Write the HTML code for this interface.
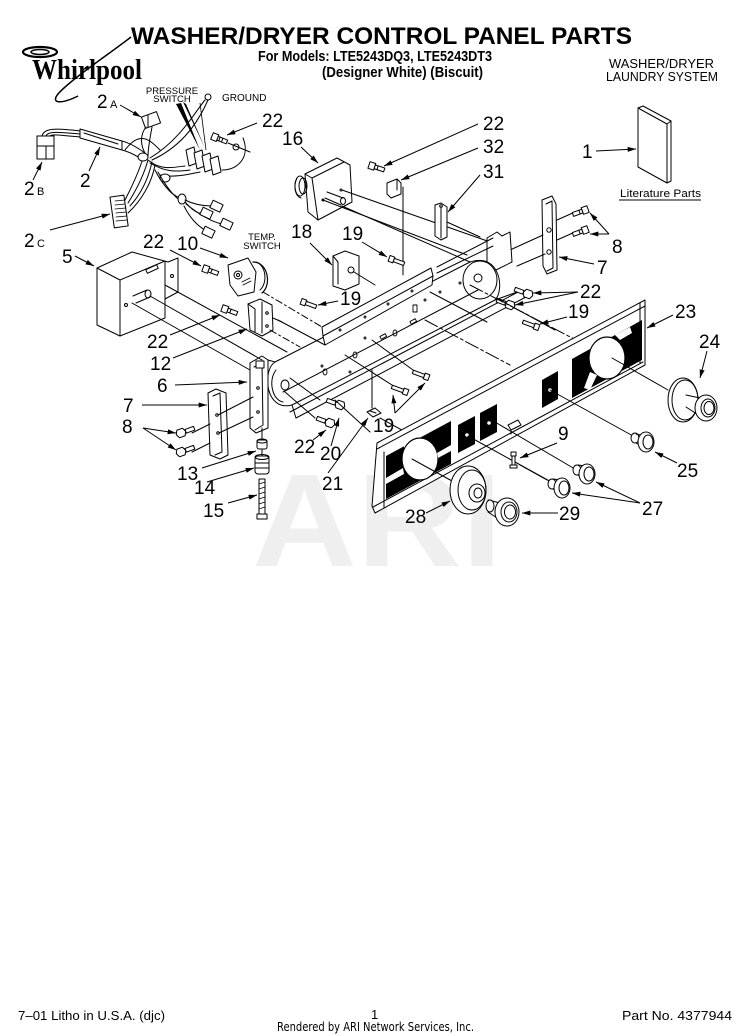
<!DOCTYPE html>
<html><head><meta charset="utf-8">
<style>
html,body{margin:0;padding:0;background:#fff;}
body{width:750px;height:1036px;overflow:hidden;}
svg{display:block;}
text{font-family:"Liberation Sans",Arial,sans-serif;fill:#000;}
.n{font-size:19px;}
.s{font-size:11px;}
.t{font-size:9.5px;}
</style></head>
<body>
<svg width="750" height="1036" viewBox="0 0 750 1036" xmlns="http://www.w3.org/2000/svg">
<defs>
<marker id="a" viewBox="0 0 10 6" refX="10" refY="3" markerWidth="9" markerHeight="5" orient="auto" markerUnits="userSpaceOnUse"><path d="M0,0 L10,3 L0,6 z" fill="#000"/></marker>
</defs>

<!-- watermark -->
<text x="252" y="566" font-size="132" font-weight="bold" textLength="250" lengthAdjust="spacingAndGlyphs" style="fill:#efefef">ARI</text>

<!-- HEADER -->
<text x="131" y="44" font-size="24" font-weight="bold" textLength="501" lengthAdjust="spacingAndGlyphs">WASHER/DRYER CONTROL PANEL PARTS</text>
<text x="258" y="61" font-size="15" font-weight="bold" textLength="234" lengthAdjust="spacingAndGlyphs">For Models: LTE5243DQ3, LTE5243DT3</text>
<text x="322" y="77" font-size="15" font-weight="bold" textLength="161" lengthAdjust="spacingAndGlyphs">(Designer White)   (Biscuit)</text>
<text x="609" y="68" font-size="12.5" textLength="105" lengthAdjust="spacingAndGlyphs">WASHER/DRYER</text>
<text x="606" y="81" font-size="12.5" textLength="112" lengthAdjust="spacingAndGlyphs">LAUNDRY SYSTEM</text>

<!-- Whirlpool logo -->
<g fill="none" stroke="#000">
<path d="M131,37 C112,52 70,80 58,94 C50,104 62,104 78,96" stroke-width="1.5"/>
<ellipse cx="40" cy="52" rx="17" ry="5" stroke-width="2.2"/>
<ellipse cx="40" cy="52" rx="9" ry="2.5" stroke-width="1.5"/>
</g>
<text x="32" y="79" font-size="29" font-weight="bold" style="font-family:'Liberation Serif',serif" textLength="110" lengthAdjust="spacingAndGlyphs">Whirlpool</text>

<!-- FOOTER -->
<text x="18" y="1020" font-size="13" textLength="147" lengthAdjust="spacingAndGlyphs">7–01 Litho in U.S.A. (djc)</text>
<text x="371" y="1019" font-size="13">1</text>
<text x="277" y="1031" font-size="12" style="font-family:'DejaVu Sans',sans-serif" textLength="197" lengthAdjust="spacingAndGlyphs">Rendered by ARI Network Services, Inc.</text>
<text x="622" y="1020" font-size="13" textLength="110" lengthAdjust="spacingAndGlyphs">Part No. 4377944</text>

<!-- ===================== DRAWING ===================== -->
<g fill="none" stroke="#000" stroke-width="1" stroke-linejoin="round" stroke-linecap="round">

<!-- Literature part 1 -->
<polygon points="638,108 667,124 667,183 638,167" fill="#fff"/>
<polyline points="638,108 643,106 671,121 671,181 667,183"/>
<line x1="667" y1="124" x2="671" y2="121"/>

<!-- Harness 2 -->
<rect x="37" y="136" width="17" height="23" fill="#fff"/>
<line x1="37" y1="146" x2="54" y2="146"/><line x1="46" y1="146" x2="46" y2="159"/>
<path d="M42,136 C44,128 55,128 80,131"/>
<path d="M46,136 C48,131 58,132 80,134"/>
<path d="M50,136 C52,134 60,135 80,137"/>
<path d="M80,129 L122,141 L122,150 L80,138 Z" fill="#fff"/>
<line x1="84" y1="133" x2="118" y2="144"/>
<path d="M122,141 C130,143 138,148 145,153"/>
<path d="M122,150 C130,152 137,156 143,160"/>
<rect x="143" y="114" width="16" height="12" fill="#fff" transform="rotate(-20 151 120)"/>
<line x1="148" y1="115" x2="148" y2="127"/>
<path d="M146,127 C140,135 140,145 146,155"/>
<path d="M152,127 C150,138 148,148 148,156"/>
<path d="M125,150 C140,130 150,140 160,150" />
<!-- ground wire -->
<circle cx="208" cy="97" r="3"/>
<path d="M205,100 C195,112 180,140 150,158"/>
<path d="M208,100 C200,118 185,145 152,160"/>
<!-- junction to pressure switch -->
<path d="M148,160 C160,170 170,168 185,166"/>
<path d="M150,163 C165,172 175,172 190,170"/>
<path d="M160,175 C175,178 190,174 200,172"/>
<g fill="#fff">
<polygon points="186,150 194,147 197,163 189,166"/>
<polygon points="194,153 202,150 205,166 197,169"/>
<polygon points="202,156 210,153 213,169 205,172"/>
<polygon points="210,159 218,156 221,172 213,175"/>
</g>
<path d="M222,170 C240,170 250,155 243,138" />
<!-- main bundle down to 2C -->
<path d="M143,158 C138,175 130,190 125,200"/>
<path d="M148,160 C143,178 135,192 128,203"/>
<path d="M152,162 C148,180 140,195 130,206"/>
<path d="M155,165 C152,182 142,200 128,213"/>
<ellipse cx="143" cy="157" rx="5" ry="4" fill="#fff"/>
<ellipse cx="165" cy="178" rx="5" ry="4" fill="#fff"/>
<rect x="112" y="196" width="14" height="31" fill="#fff" transform="rotate(-8 119 211)"/>
<g stroke-width="0.8">
<line x1="115" y1="201" x2="125" y2="200"/><line x1="115" y1="205" x2="125" y2="204"/>
<line x1="115" y1="209" x2="126" y2="208"/><line x1="116" y1="213" x2="126" y2="212"/>
<line x1="116" y1="217" x2="127" y2="216"/><line x1="116" y1="221" x2="127" y2="220"/>
</g>
<path d="M155,170 C160,180 170,195 180,198"/>
<path d="M158,172 C165,185 175,198 182,202"/>
<ellipse cx="182" cy="199" rx="4" ry="5" fill="#fff"/>
<path d="M185,200 C195,205 205,206 212,206"/>
<path d="M185,202 C192,210 198,214 204,214"/>
<path d="M186,204 C200,215 212,222 222,224"/>
<path d="M184,206 C190,218 198,226 205,230"/>
<g fill="#fff">
<rect x="211" y="202" width="11" height="8" transform="rotate(25 216 206)"/>
<rect x="201" y="209" width="11" height="8" transform="rotate(25 206 213)"/>
<rect x="221" y="220" width="11" height="8" transform="rotate(25 226 224)"/>
<rect x="203" y="228" width="11" height="8" transform="rotate(25 208 232)"/>
</g>

<!-- bolt 22 top-left -->
<g transform="translate(212,136) rotate(22)"><rect x="0" y="-3.5" width="6" height="7" fill="#fff"/><rect x="6" y="-2" width="10" height="4" fill="#fff"/><line x1="8" y1="-2" x2="8" y2="2"/><line x1="11" y1="-2" x2="11" y2="2"/></g>
<circle cx="236" cy="147" r="3"/>
<line x1="228" y1="143" x2="250" y2="152"/>

<!-- Timer 16 -->
<polygon points="305,174 337,158 350,165 352,202 318,220 308,212" fill="#fff"/>
<polyline points="305,174 312,178 344,162"/>
<line x1="312" y1="178" x2="318" y2="220"/>
<ellipse cx="300" cy="186" rx="5" ry="10" fill="#fff"/>
<ellipse cx="303" cy="186" rx="4" ry="8"/>
<path d="M297,178 C293,186 295,196 301,198"/>
<path d="M327,192 L343,198 M325,198 L341,205"/>
<ellipse cx="343" cy="201" rx="2.5" ry="3.5"/>
<circle cx="341" cy="190" r="1"/><circle cx="323" cy="200" r="1"/>
<!-- lines from timer -->
<line x1="342" y1="190" x2="493" y2="243"/>
<line x1="323" y1="200" x2="467" y2="255"/>
<line x1="342" y1="206" x2="470" y2="262"/>

<!-- bolt 22 near 32 -->
<g transform="translate(369,165) rotate(18)"><rect x="0" y="-3.5" width="6" height="7" fill="#fff"/><rect x="6" y="-2" width="10" height="4" fill="#fff"/><line x1="9" y1="-2" x2="9" y2="2"/></g>
<!-- clip 32 -->
<polygon points="387,183 397,179 401,183 401,194 391,198 387,194" fill="#fff"/>
<line x1="397" y1="179" x2="397" y2="190"/>
<line x1="403" y1="187" x2="403" y2="275"/>
<!-- bracket 31 -->
<polygon points="435,205 441,203 447,207 447,237 441,240 435,236" fill="#fff"/>
<line x1="441" y1="207" x2="441" y2="238"/>
<circle cx="441" cy="206" r="1.3"/>
<line x1="447" y1="222" x2="480" y2="237"/>

<!-- right bracket 7 -->
<polygon points="542,200 552,196 556,204 557,270 547,274 543,266" fill="#fff"/>
<polyline points="546,204 552,201 553,268 547,271"/>
<circle cx="549" cy="230" r="2.2"/><circle cx="549" cy="252" r="2.2"/>
<line x1="557" y1="220" x2="575" y2="212"/>
<line x1="557" y1="240" x2="575" y2="232"/>
<line x1="510" y1="250" x2="543" y2="235"/>
<line x1="517" y1="266" x2="545" y2="254"/>
<!-- screws 8 right -->
<g transform="translate(588,209) rotate(160)"><rect x="0" y="-3.5" width="6" height="7" fill="#fff"/><rect x="6" y="-2" width="10" height="4" fill="#fff"/><line x1="9" y1="-2" x2="9" y2="2"/></g>
<g transform="translate(588,229) rotate(160)"><rect x="0" y="-3.5" width="6" height="7" fill="#fff"/><rect x="6" y="-2" width="10" height="4" fill="#fff"/><line x1="9" y1="-2" x2="9" y2="2"/></g>

<!-- CHASSIS -->
<!-- right end bracket -->
<polygon points="487,238 497,232 502,236 510,232 512,262 496,270 487,266" fill="#fff"/>
<!-- main plate -->
<path d="M275,362 L470,262 C500,252 505,290 495,300 L292,405 C265,412 262,370 275,362 Z" fill="#fff"/>
<ellipse cx="480" cy="280" rx="17" ry="19"/>
<ellipse cx="478" cy="278" rx="4" ry="4"/>
<ellipse cx="285" cy="385" rx="4" ry="5"/>
<path d="M276,370 C268,380 272,400 283,402"/>
<line x1="290" y1="412" x2="520" y2="291"/>
<line x1="296" y1="418" x2="526" y2="297"/>
<line x1="292" y1="405" x2="296" y2="418"/>
<line x1="495" y1="300" x2="520" y2="291"/>
<!-- top flange strip -->
<polygon points="322,327 431,268 433,276 432,285 325,345 323,336" fill="#fff"/>
<line x1="323" y1="336" x2="433" y2="276"/>
<line x1="437" y1="267" x2="493" y2="238"/>
<line x1="437" y1="273" x2="493" y2="246"/>
<!-- holes -->
<g stroke-width="0.9">
<circle cx="340" cy="330" r="1"/><circle cx="365" cy="317" r="1"/><circle cx="388" cy="304" r="1"/><circle cx="412" cy="291" r="1"/>
<ellipse cx="355" cy="355" rx="2" ry="3"/><ellipse cx="395" cy="333" rx="2" ry="3"/><ellipse cx="325" cy="372" rx="2" ry="3"/>
<rect x="380" y="335" width="6" height="3" transform="rotate(-28 383 336)"/>
<rect x="410" y="320" width="6" height="3" transform="rotate(-28 413 321)"/>
<rect x="413" y="305" width="4" height="7"/>
<circle cx="322" cy="366" r="1"/><circle cx="350" cy="372" r="1"/><circle cx="365" cy="338" r="1"/>
<circle cx="425" cy="300" r="1"/><circle cx="440" cy="292" r="1"/><circle cx="460" cy="283" r="1"/>
</g>
<!-- inner rails -->
<line x1="283" y1="392" x2="478" y2="290"/>

<!-- bracket 6 (left end) -->
<polygon points="250,363 262,356 268,360 268,428 256,433 250,428" fill="#fff"/>
<polyline points="254,367 262,363 263,425 255,430"/>
<rect x="256" y="361" width="8" height="7" fill="#fff"/>
<circle cx="258" cy="388" r="1.3"/><circle cx="258" cy="412" r="1.3"/>
<line x1="268" y1="360" x2="275" y2="362"/>

<!-- bracket 18 -->
<polygon points="333,256 345,251 359,256 359,284 345,290 333,286" fill="#fff"/>
<polyline points="333,256 338,262 338,284"/>
<circle cx="351" cy="270" r="3"/>
<line x1="354" y1="272" x2="375" y2="285"/>
<!-- bolt 19 near 18 -->
<g transform="translate(391,259) rotate(20)"><rect x="-2" y="-3" width="5" height="6" fill="#fff"/><rect x="3" y="-1.8" width="11" height="3.6" fill="#fff"/></g>
<!-- bolt 19 left -->
<g transform="translate(303,302) rotate(20)"><rect x="-2" y="-3" width="5" height="6" fill="#fff"/><rect x="3" y="-1.8" width="11" height="3.6" fill="#fff"/></g>

<!-- Box 5 -->
<polygon points="97,268 132,252 168,262 178,258 178,292 165,299 165,318 120,336 97,325" fill="#fff"/>
<polyline points="97,268 120,280 120,336"/>
<line x1="120" y1="280" x2="165" y2="261"/>
<line x1="165" y1="262" x2="165" y2="299"/>
<rect x="146" y="267" width="12" height="4" transform="rotate(-25 152 269)"/>
<circle cx="172" cy="276" r="1.5"/><circle cx="126" cy="305" r="1.5"/>
<path d="M133,296 L147,290 M136,303 L150,297"/>
<ellipse cx="148" cy="294" rx="3" ry="4"/>
<line x1="150" y1="296" x2="262" y2="360"/>
<line x1="132" y1="303" x2="250" y2="370"/>
<line x1="165" y1="285" x2="287" y2="352"/>

<!-- Temp switch 10 -->
<path d="M253,262 C268,262 272,285 262,293" stroke-width="1.2"/>
<path d="M256,262 C266,265 268,283 260,290"/>
<polygon points="228,265 248,258 256,272 254,292 238,296 230,285" fill="#fff"/>
<circle cx="238" cy="275" r="4"/><circle cx="238" cy="275" r="1.5"/>
<g stroke-width="0.8"><line x1="242" y1="282" x2="250" y2="278"/><line x1="243" y1="285" x2="251" y2="281"/></g>
<line x1="263" y1="292" x2="322" y2="327" stroke-dasharray="7 3 2 3"/>
<!-- bolt 22 near 10 -->
<g transform="translate(203,268) rotate(20)"><rect x="0" y="-3.5" width="6" height="7" fill="#fff"/><rect x="6" y="-2" width="10" height="4" fill="#fff"/><line x1="9" y1="-2" x2="9" y2="2"/></g>
<!-- bolt 22 near 12 -->
<g transform="translate(222,308) rotate(20)"><rect x="0" y="-3.5" width="6" height="7" fill="#fff"/><rect x="6" y="-2" width="10" height="4" fill="#fff"/><line x1="9" y1="-2" x2="9" y2="2"/></g>

<!-- switch 12 -->
<polygon points="248,304 260,299 272,305 273,330 262,336 250,330" fill="#fff"/>
<polyline points="248,304 255,309 255,332"/>
<line x1="262" y1="302" x2="262" y2="333"/>
<line x1="273" y1="318" x2="282" y2="322"/>
<circle cx="267" cy="313" r="1.3"/><circle cx="267" cy="326" r="1.3"/>
<line x1="278" y1="320" x2="325" y2="345"/>
<line x1="270" y1="330" x2="300" y2="347" stroke-dasharray="7 3 2 3"/>

<!-- left bracket 7 -->
<polygon points="208,393 216,389 226,393 228,455 220,459 210,455" fill="#fff"/>
<polyline points="213,396 220,393 222,452 215,455"/>
<circle cx="217" cy="415" r="1.3"/><circle cx="218" cy="433" r="1.3"/>
<line x1="218" y1="415" x2="253" y2="397"/>
<line x1="219" y1="433" x2="253" y2="417"/>
<line x1="192" y1="433" x2="210" y2="424"/>
<line x1="192" y1="452" x2="210" y2="443"/>
<!-- screws 8 left -->
<g transform="translate(181,433) rotate(-20)"><polygon points="-3,-4 3,-4 5,0 3,4 -3,4 -5,0" fill="#fff"/><rect x="5" y="-2" width="9" height="4" fill="#fff"/></g>
<g transform="translate(181,452) rotate(-20)"><polygon points="-3,-4 3,-4 5,0 3,4 -3,4 -5,0" fill="#fff"/><rect x="5" y="-2" width="9" height="4" fill="#fff"/></g>

<!-- 13, 14, 15 -->
<line x1="262" y1="428" x2="262" y2="440"/>
<rect x="257" y="440" width="10" height="9" rx="2" fill="#fff"/>
<ellipse cx="262" cy="441" rx="5" ry="2"/>
<line x1="262" y1="450" x2="262" y2="456"/>
<rect x="255" y="456" width="14" height="18" rx="3" fill="#fff"/>
<ellipse cx="262" cy="457" rx="7" ry="2.5"/>
<line x1="255" y1="463" x2="269" y2="463"/><line x1="255" y1="468" x2="269" y2="468"/>
<rect x="259" y="479" width="6" height="36" fill="#fff"/>
<g stroke-width="0.7"><line x1="259" y1="484" x2="265" y2="482"/><line x1="259" y1="489" x2="265" y2="487"/><line x1="259" y1="494" x2="265" y2="492"/><line x1="259" y1="499" x2="265" y2="497"/><line x1="259" y1="504" x2="265" y2="502"/><line x1="259" y1="509" x2="265" y2="507"/></g>
<rect x="257" y="514" width="10" height="5" fill="#fff"/>

<!-- bolts 22/20 -->
<g transform="translate(340,405) rotate(200)"><polygon points="-3,-4 3,-4 5,0 3,4 -3,4 -5,0" fill="#fff"/><rect x="5" y="-2" width="9" height="4" fill="#fff"/></g>
<g transform="translate(330,423) rotate(200)"><polygon points="-3,-4 3,-4 5,0 3,4 -3,4 -5,0" fill="#fff"/><rect x="5" y="-2" width="9" height="4" fill="#fff"/></g>
<line x1="290" y1="378" x2="320" y2="400"/>
<line x1="285" y1="392" x2="315" y2="418"/>
<!-- clip 21 -->
<polygon points="367,412 375,408 381,413 373,417" fill="#fff"/>
<line x1="370" y1="411" x2="376" y2="413"/>
<line x1="372" y1="408" x2="372" y2="370"/>
<!-- bolts 19 lower -->
<g transform="translate(427,377) rotate(200)"><rect x="-2" y="-3" width="5" height="6" fill="#fff"/><rect x="3" y="-1.8" width="12" height="3.6" fill="#fff"/></g>
<g transform="translate(406,392) rotate(200)"><rect x="-2" y="-3" width="5" height="6" fill="#fff"/><rect x="3" y="-1.8" width="12" height="3.6" fill="#fff"/></g>
<line x1="345" y1="355" x2="392" y2="385"/>
<line x1="372" y1="340" x2="413" y2="370"/>
<line x1="335" y1="400" x2="370" y2="432" />
<line x1="380" y1="418" x2="420" y2="440"/>

<!-- bolts 22 right / 19 right -->
<g transform="translate(528,294) rotate(200)"><polygon points="-3,-4 3,-4 5,0 3,4 -3,4 -5,0" fill="#fff"/><rect x="5" y="-2" width="9" height="4" fill="#fff"/></g>
<g transform="translate(510,305) rotate(200)"><polygon points="-3,-4 3,-4 5,0 3,4 -3,4 -5,0" fill="#fff"/><rect x="5" y="-2" width="9" height="4" fill="#fff"/></g>
<g transform="translate(537,327) rotate(200)"><rect x="-2" y="-3" width="5" height="6" fill="#fff"/><rect x="3" y="-1.8" width="12" height="3.6" fill="#fff"/></g>
<line x1="470" y1="285" x2="605" y2="355" stroke-dasharray="14 3 3 3"/>
<line x1="425" y1="320" x2="510" y2="365" stroke-dasharray="14 3 3 3"/>
<line x1="430" y1="292" x2="487" y2="322"/>
<line x1="500" y1="300" x2="555" y2="330"/>

<!-- FRONT PANEL 23 -->
<polygon points="377,443 645,300 645,365 375,513 372,506" fill="#fff"/>
<line x1="377" y1="449" x2="645" y2="306"/>
<line x1="384" y1="452" x2="384" y2="508"/>
<line x1="373" y1="507" x2="643" y2="362"/>
<line x1="640" y1="303" x2="640" y2="363"/>
<!-- left black region -->
<polygon points="386,456 451,421 451,464 386,499" fill="#000" stroke="none"/>
<ellipse cx="420" cy="459" rx="18" ry="21" fill="#fff" stroke="#000" stroke-width="1.2"/>
<polygon points="386,478 403,468 404,474 386,484" fill="#fff" stroke="none"/>
<polygon points="437,453 451,445 451,451 438,458" fill="#fff" stroke="none"/>
<polygon points="404,440 410,438 404,448" fill="#fff" stroke="none"/>
<!-- small squares -->
<polygon points="458,425 475,416 475,444 458,453" fill="#000" stroke="none"/>
<polygon points="480,413 497,404 497,432 480,441" fill="#000" stroke="none"/>
<polygon points="542,380 558,371 558,399 542,408" fill="#000" stroke="none"/>
<circle cx="467" cy="435" r="1.8" fill="#fff" stroke="none"/>
<circle cx="489" cy="423" r="1.8" fill="#fff" stroke="none"/>
<circle cx="550" cy="390" r="1.8" fill="#fff" stroke="none"/>
<!-- right black region -->
<polygon points="572,359 642,320 642,360 572,398" fill="#000" stroke="none"/>
<ellipse cx="607" cy="358" rx="18" ry="21" fill="#fff" stroke="#000" stroke-width="1.2"/>
<polygon points="590,372 597,375 590,390 584,388" fill="#fff" stroke="none"/>
<polygon points="615,335 630,327 632,333 620,340" fill="#fff" stroke="none"/>
<!-- clip on panel -->
<polygon points="508,425 518,420 521,425 511,430" fill="#fff"/>
<line x1="511" y1="430" x2="511" y2="434"/>
<line x1="495" y1="422" x2="580" y2="472"/>
<line x1="468" y1="436" x2="553" y2="483"/>
<line x1="550" y1="390" x2="633" y2="436"/>
<line x1="612" y1="358" x2="668" y2="390"/>
<line x1="412" y1="459" x2="463" y2="487"/>

<!-- screw 9 -->
<g fill="#fff"><rect x="511" y="452" width="5" height="4"/><rect x="512" y="456" width="3" height="10"/><rect x="510" y="465" width="7" height="3"/></g>
<line x1="520" y1="465" x2="547" y2="480"/>

<!-- knob 24 -->
<ellipse cx="683" cy="400" rx="15" ry="22" fill="#fff"/>
<ellipse cx="685" cy="400" rx="13" ry="20"/>
<path d="M686,395 L700,398 M686,407 L700,416"/>
<ellipse cx="706" cy="408" rx="11" ry="13" fill="#fff"/>
<ellipse cx="708" cy="408" rx="7" ry="9"/>
<ellipse cx="709" cy="408" rx="5" ry="6.5"/>
<!-- knob 25 -->
<ellipse cx="635" cy="438" rx="4" ry="5" fill="#fff"/>
<path d="M636,434 L645,436 M636,443 L645,448"/>
<ellipse cx="646" cy="442" rx="8" ry="10" fill="#fff"/>
<ellipse cx="648" cy="442" rx="5" ry="7"/>
<!-- knobs 27 -->
<ellipse cx="577" cy="470" rx="4" ry="5" fill="#fff"/>
<path d="M578,465 L586,466 M578,475 L586,479"/>
<ellipse cx="587" cy="474" rx="8" ry="10" fill="#fff"/>
<ellipse cx="589" cy="474" rx="5" ry="7"/>
<ellipse cx="552" cy="484" rx="4" ry="5" fill="#fff"/>
<path d="M553,479 L561,480 M553,489 L561,493"/>
<ellipse cx="562" cy="488" rx="8" ry="10" fill="#fff"/>
<ellipse cx="564" cy="488" rx="5" ry="7"/>
<!-- disc 28 -->
<ellipse cx="468" cy="490" rx="18" ry="24" fill="#fff"/>
<ellipse cx="472" cy="490" rx="14" ry="20"/>
<ellipse cx="477" cy="493" rx="8" ry="9"/>
<ellipse cx="478" cy="493" rx="4" ry="5"/>
<!-- knob 29 -->
<path d="M488,500 L500,503 M488,512 L500,520"/>
<ellipse cx="490" cy="506" rx="4" ry="6" fill="#fff"/>
<ellipse cx="507" cy="512" rx="12" ry="14" fill="#fff"/>
<ellipse cx="509" cy="512" rx="8" ry="10"/>
<ellipse cx="510" cy="512" rx="5.5" ry="7"/>
</g>

<!-- PRESSURE SWITCH wedges -->
<polygon points="176,104 181,103 200,150" fill="#000"/>
<polygon points="183,102 186,104 205,148" fill="#000"/>
<line x1="200" y1="103" x2="206" y2="150" stroke="#000" stroke-width="0.8"/>

<!-- LEADERS -->
<g stroke="#000" stroke-width="1" fill="none">
<line x1="120" y1="105" x2="141" y2="117" marker-end="url(#a)"/>
<line x1="257" y1="123" x2="227" y2="135" marker-end="url(#a)"/>
<line x1="89" y1="171" x2="100" y2="147" marker-end="url(#a)"/>
<line x1="33" y1="180" x2="42" y2="162" marker-end="url(#a)"/>
<line x1="50" y1="230" x2="110" y2="214" marker-end="url(#a)"/>
<line x1="170" y1="250" x2="201" y2="266" marker-end="url(#a)"/>
<line x1="200" y1="248" x2="228" y2="258" marker-end="url(#a)"/>
<line x1="75" y1="256" x2="94" y2="266" marker-end="url(#a)"/>
<line x1="301" y1="147" x2="318" y2="163" marker-end="url(#a)"/>
<line x1="478" y1="124" x2="384" y2="166" marker-end="url(#a)"/>
<line x1="478" y1="148" x2="401" y2="180" marker-end="url(#a)"/>
<line x1="480" y1="175" x2="448" y2="212" marker-end="url(#a)"/>
<line x1="596" y1="151" x2="636" y2="149" marker-end="url(#a)"/>
<line x1="310" y1="243" x2="332" y2="265" marker-end="url(#a)"/>
<line x1="362" y1="242" x2="387" y2="257" marker-end="url(#a)"/>
<line x1="338" y1="301" x2="318" y2="305" marker-end="url(#a)"/>
<line x1="609" y1="234" x2="590" y2="213" marker-end="url(#a)"/>
<line x1="609" y1="234" x2="590" y2="234" marker-end="url(#a)"/>
<line x1="594" y1="264" x2="559" y2="257" marker-end="url(#a)"/>
<line x1="578" y1="292" x2="533" y2="293" marker-end="url(#a)"/>
<line x1="578" y1="292" x2="515" y2="305" marker-end="url(#a)"/>
<line x1="567" y1="317" x2="540" y2="324" marker-end="url(#a)"/>
<line x1="673" y1="315" x2="647" y2="328" marker-end="url(#a)"/>
<line x1="707" y1="351" x2="700" y2="378" marker-end="url(#a)"/>
<line x1="677" y1="463" x2="655" y2="452" marker-end="url(#a)"/>
<line x1="640" y1="503" x2="596" y2="482" marker-end="url(#a)"/>
<line x1="640" y1="503" x2="572" y2="493" marker-end="url(#a)"/>
<line x1="558" y1="513" x2="522" y2="513" marker-end="url(#a)"/>
<line x1="426" y1="513" x2="450" y2="501" marker-end="url(#a)"/>
<line x1="557" y1="443" x2="520" y2="458" marker-end="url(#a)"/>
<line x1="395" y1="413" x2="393" y2="395" marker-end="url(#a)"/>
<line x1="395" y1="413" x2="425" y2="383" marker-end="url(#a)"/>
<line x1="328" y1="473" x2="368" y2="418" marker-end="url(#a)"/>
<line x1="331" y1="446" x2="339" y2="418" marker-end="url(#a)"/>
<line x1="313" y1="440" x2="326" y2="430" marker-end="url(#a)"/>
<line x1="170" y1="335" x2="220" y2="315" marker-end="url(#a)"/>
<line x1="173" y1="358" x2="247" y2="329" marker-end="url(#a)"/>
<line x1="175" y1="385" x2="247" y2="382" marker-end="url(#a)"/>
<line x1="142" y1="405" x2="207" y2="405" marker-end="url(#a)"/>
<line x1="143" y1="428" x2="176" y2="433" marker-end="url(#a)"/>
<line x1="143" y1="428" x2="176" y2="450" marker-end="url(#a)"/>
<line x1="202" y1="468" x2="256" y2="451" marker-end="url(#a)"/>
<line x1="207" y1="482" x2="254" y2="468" marker-end="url(#a)"/>
<line x1="228" y1="503" x2="257" y2="495" marker-end="url(#a)"/>
</g>

<!-- LABELS -->
<text class="n" x="97" y="108">2</text><text class="s" x="110" y="108">A</text>
<text class="t" x="172" y="94" text-anchor="middle">PRESSURE</text>
<text class="t" x="172" y="102" text-anchor="middle">SWITCH</text>
<text x="222" y="101" font-size="10">GROUND</text>
<text class="n" x="262" y="127">22</text>
<text class="n" x="282" y="145">16</text>
<text class="n" x="80" y="187">2</text>
<text class="n" x="24" y="195">2</text><text class="s" x="37" y="195">B</text>
<text class="n" x="24" y="247">2</text><text class="s" x="37" y="247">C</text>
<text class="n" x="143" y="248">22</text>
<text class="n" x="177" y="250">10</text>
<text class="t" x="262" y="240" text-anchor="middle">TEMP.</text>
<text class="t" x="262" y="249" text-anchor="middle">SWITCH</text>
<text class="n" x="62" y="263">5</text>
<text class="n" x="291" y="238">18</text>
<text class="n" x="342" y="240">19</text>
<text class="n" x="340" y="305">19</text>
<text class="n" x="483" y="130">22</text>
<text class="n" x="483" y="153">32</text>
<text class="n" x="483" y="178">31</text>
<text class="n" x="582" y="158">1</text>
<text x="620" y="197" font-size="11" textLength="81" lengthAdjust="spacingAndGlyphs">Literature Parts</text>
<line x1="619" y1="200" x2="701" y2="200" stroke="#000" stroke-width="1"/>
<text class="n" x="612" y="253">8</text>
<text class="n" x="597" y="274">7</text>
<text class="n" x="580" y="298">22</text>
<text class="n" x="568" y="318">19</text>
<text class="n" x="675" y="318">23</text>
<text class="n" x="699" y="348">24</text>
<text class="n" x="147" y="348">22</text>
<text class="n" x="150" y="370">12</text>
<text class="n" x="157" y="392">6</text>
<text class="n" x="123" y="412">7</text>
<text class="n" x="122" y="433">8</text>
<text class="n" x="558" y="440">9</text>
<text class="n" x="373" y="432">19</text>
<text class="n" x="294" y="453">22</text>
<text class="n" x="320" y="460">20</text>
<text class="n" x="177" y="480">13</text>
<text class="n" x="194" y="494">14</text>
<text class="n" x="203" y="517">15</text>
<text class="n" x="322" y="490">21</text>
<text class="n" x="677" y="477">25</text>
<text class="n" x="642" y="515">27</text>
<text class="n" x="405" y="523">28</text>
<text class="n" x="559" y="520">29</text>
</svg>
</body></html>
